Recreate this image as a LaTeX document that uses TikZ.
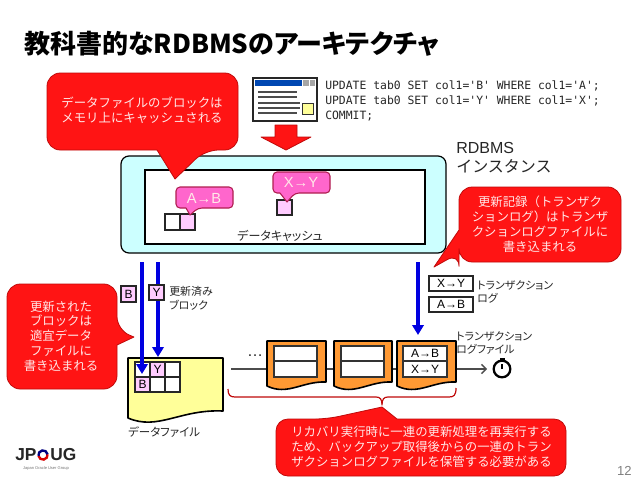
\documentclass[tikz,border=0pt]{standalone}
\usepackage{fontspec}
\usetikzlibrary{arrows.meta}
\setmainfont{Liberation Sans}
\newfontfamily\jp[RawFeature={+palt}]{Noto Sans CJK JP}
\newfontfamily\jpf{Noto Sans CJK JP}
\newfontfamily\sqlfont{DejaVu Sans Mono}
\newcommand\tsz[2]{\fontsize{#1pt}{#2pt}\selectfont}
\newcommand\pxbox[7]{%
  \pgfmathsetmacro\pxw{(#5-#3)*0.75}%
  \pgfmathsetmacro\pxh{(#6-#4)*0.75}%
  \node[#1,minimum width=\pxw pt,minimum height=\pxh pt,inner sep=0pt,outer sep=0pt] (#2) at ({(#3+#5)/2},{(#4+#6)/2}) {#7};}
\definecolor{cred}{HTML}{FF1414}
\definecolor{credline}{HTML}{C00A0A}
\definecolor{cpink}{HTML}{FF66CC}
\definecolor{cpinkline}{HTML}{B01E50}
\definecolor{cblock}{HTML}{FFCCFF}
\definecolor{ccyan}{HTML}{CCFFFF}
\definecolor{cyellow}{HTML}{FFFF99}
\definecolor{corange}{HTML}{FF9933}
\definecolor{cblue}{HTML}{0000E0}
\definecolor{ctxt}{HTML}{FFE8E8}
\tikzset{
  x=0.75pt,y=-0.75pt,
  redcall/.style={fill=cred,draw=credline,line width=0.6pt,line join=round},
  pinkcall/.style={fill=cpink,draw=cpinkline,line width=0.8pt,line join=round},
  calltxt/.style={inner sep=0pt,text=ctxt,align=center,font=\jpf\tsz{9.3}{11.1}},
  label/.style={inner sep=0pt,text=black!85,align=left,font=\jp\tsz{8.2}{10.2}},
  block/.style={draw=black!85,line width=0.9pt,fill=cblock,font=\tsz{9}{10}},
  wblock/.style={draw=black!85,line width=0.9pt,fill=white,font=\tsz{9}{10}},
  logrow/.style={draw=black!80,line width=1pt,fill=white,font=\tsz{9}{10}},
  docline/.style={draw=black,line width=1.2pt,line join=round},
  flow/.style={draw=cblue,line width=3.3pt,-{Triangle[length=7.5pt,width=8.5pt]}},
  chain/.style={draw=black!70,line width=1.1pt},
}
\begin{document}
\begin{tikzpicture}
\useasboundingbox (0,0) rectangle (638,479);
\fill[white] (0,0) rectangle (638,479);

% title
\node[anchor=west,inner sep=0pt,font=\jp\bfseries\tsz{19.5}{23}] (title) at (24,44) {教科書的なRDBMSのアーキテクチャ};

% client window
\pxbox{draw=black!85,line width=1.3pt,fill=white}{win}{253}{78}{317}{121}{}
\fill[fill=blue!60!cyan!70!black] (255,80) rectangle (302,86);
\fill[gray!70] (303,80) rectangle (309,86);
\fill[gray!70] (310,80) rectangle (315,86);
\foreach \yy/\xx in {92/297,97/297,103/300,108/300,113/297}
  \draw[black!70,line width=0.8pt] (258,\yy) -- (\xx,\yy);
\pxbox{draw=black!80,line width=0.7pt,fill=cyellow}{winnote}{302}{103}{313}{114}{}

% SQL
\node[anchor=north west,inner sep=0pt,align=left,text=black!85,font=\sqlfont\tsz{8.55}{11}] (sql) at (325,81)
  {UPDATE tab0 SET col1='B' WHERE col1='A';\\UPDATE tab0 SET col1='Y' WHERE col1='X';\\COMMIT;};

% big red arrow
\draw[redcall] (275,125) -- (297,125) -- (297,137) -- (311,137) -- (286,150) -- (261,137) -- (275,137) -- cycle;

% instance
\pxbox{draw=black,line width=0.9pt,rounded corners=6pt,fill=ccyan}{inst}{121}{156}{446}{253}{}
\pxbox{draw=black,line width=1.1pt,fill=white}{cache}{145}{170}{425}{244}{}
\node[label,font=\jp\tsz{9}{11}] (cachelbl) at (280,236) {データキャッシュ};
\node[anchor=north west,inner sep=0pt,align=left,text=black!85,font=\tsz{12}{14.3}] (instlbl) at (456,142) {RDBMS\\{\jpf インスタンス}};

% cache blocks
\pxbox{wblock}{ca}{165}{214}{180}{230}{}
\pxbox{block}{cb}{180}{214}{195}{230}{}
\pxbox{block}{cc}{277}{200}{292}{215}{}

% pink callouts
\draw[pinkcall,rounded corners=3pt] (205,187) -- (233,187) -- (233,208) -- (198,208) [sharp corners] -- (190,215) -- (186,208) [rounded corners=3pt] -- (176,208) -- (176,187) -- cycle;
\node[inner sep=0pt,text=ctxt,font=\tsz{11}{13}] (ab) at (204,198) {A→B};
\draw[pinkcall,rounded corners=3pt] (300,172) -- (330,172) -- (330,193) -- (295,193) [sharp corners] -- (287,202) -- (280,193) [rounded corners=3pt] -- (273,193) -- (273,172) -- cycle;
\node[inner sep=0pt,text=ctxt,font=\tsz{11}{13}] (xy) at (301,182) {X→Y};

% red callouts
\draw[redcall,rounded corners=10pt] (142,73) -- (238,73) -- (238,150) -- (205,150) [sharp corners] -- (175,179) -- (157,150) [rounded corners=10pt] -- (47,150) -- (47,73) -- cycle;
\node[calltxt,font=\jpf\tsz{9.3}{11.6}] (c1) at (142,110) {データファイルのブロックは\\メモリ上にキャッシュされる};

\draw[redcall,rounded corners=10pt] (540,187) -- (621,187) -- (621,262) -- (459,262) -- (459,253) [sharp corners] -- (434,267) -- (459,230) [rounded corners=10pt] -- (459,187) -- cycle;
\node[calltxt] (c2) at (540,224) {更新記録（トランザク\\ションログ）はトランザ\\クションログファイルに\\書き込まれる};

\draw[redcall,rounded corners=10pt] (60,284) -- (117,284) -- (117,330) [sharp corners] -- (134,337) -- (117,345) [rounded corners=10pt] -- (117,389) -- (7,389) -- (7,284) -- cycle;
\node[calltxt] (c3) at (61,336) {更新された\\ブロックは\\適宜データ\\ファイルに\\書き込まれる};

\draw[redcall,rounded corners=9pt] (300,419) -- (327,419) [sharp corners] -- (382,407) -- (397,419) [rounded corners=9pt] -- (566,419) -- (566,476) -- (276,476) -- (276,419) -- cycle;
\node[calltxt,align=left,anchor=west] (c4) at (291,447) {リカバリ実行時に一連の更新処理を再実行する\\ため、バックアップ取得後からの一連のトラン\\ザクションログファイルを保管する必要がある};

% data file
\draw[docline,fill=cyellow] (128,358) -- (223,358) -- (223,411) .. controls (180,409) and (158,431) .. (128,418) -- cycle;
\node[label,font=\jp\tsz{8.6}{10},anchor=west] (dflbl) at (128,432) {データファイル};
\pxbox{wblock}{g11}{135}{362}{150}{377}{}
\pxbox{block}{g12}{150}{362}{165}{377}{Y}
\pxbox{wblock}{g13}{165}{362}{180}{377}{}
\pxbox{block}{g21}{135}{377}{150}{392}{B}
\pxbox{wblock}{g22}{150}{377}{165}{392}{}
\pxbox{wblock}{g23}{165}{377}{180}{392}{}

% transaction log rows
\pxbox{wblock}{tx}{429}{276}{473}{291}{X→Y}
\pxbox{wblock}{ta}{429}{297}{473}{312}{A→B}
\node[label,anchor=north west] (tllbl) at (477,280) {トランザクション\\ログ};
\node[label,anchor=north west] (tfbl) at (456,331) {トランザクション\\ログファイル};

% chain of log files
\coordinate (chainstart) at (231,369);
\pxbox{}{d1}{267}{341}{326}{397}{}
\pxbox{}{d2}{334}{341}{392}{397}{}
\pxbox{}{d3}{397}{341}{456}{397}{}
\node[draw=black,line width=1.7pt,circle,minimum size=12.5pt,inner sep=0pt,fill=white] (clock) at (502,369) {};
\draw[chain] (chainstart) -- (d1);
\draw[chain] (d1) -- (d2);
\draw[chain] (d2) -- (d3);
\draw[chain,shorten >=4pt,-{Straight Barb[length=3.5pt,width=7pt]}] (d3) -- (clock);
\fill[black] (499.5,358) rectangle (504.5,362);
\draw[black,line width=0.8pt] (502,369) -- (502,364);
\node[inner sep=0pt,text=black!85,font=\tsz{12}{13}] (dots) at (255,356) {…};

\foreach \xa/\xb in {267/326,334/392,397/456}{
  \pgfmathsetmacro\xm{\xb-\xa}
  \draw[docline,fill=corange] (\xa,341) -- (\xb,341) -- (\xb,382) .. controls ({\xa+0.6*\xm},381) and ({\xa+0.35*\xm},396) .. (\xa,386) -- cycle;
}
\pxbox{logrow}{r1a}{274}{346}{317}{361}{}
\pxbox{logrow}{r1b}{274}{361}{317}{377}{}
\pxbox{logrow}{r2a}{341}{346}{384}{361}{}
\pxbox{logrow}{r2b}{341}{361}{384}{377}{}
\pxbox{logrow}{r3a}{403}{346}{447}{361}{A→B}
\pxbox{logrow}{r3b}{403}{361}{447}{377}{X→Y}

% brace
\draw[credline,line width=0.9pt,line join=round] (228,389) .. controls (228,395) and (230,397) .. (235,397) -- (376,397) .. controls (380,397) and (382,399) .. (382,405) .. controls (382,399) and (384,397) .. (388,397) -- (449,397) .. controls (454,397) and (456,395) .. (456,388);

% blue arrows
\coordinate (f1s) at (142,262); \coordinate (f1e) at (142,374);
\coordinate (f2s) at (158,262); \coordinate (f2e) at (158,357);
\coordinate (f3s) at (418,262); \coordinate (f3e) at (418,335);
\draw[flow] (f1s) -- (f1e);
\draw[flow] (f2s) -- (f2e);
\draw[flow] (f3s) -- (f3e);

% updated blocks (on top of the arrows)
\pxbox{block}{ub}{121}{286}{136}{302}{B}
\pxbox{block}{uy}{149}{285}{164}{300}{Y}
\node[label,anchor=north west] (ublbl) at (169,286) {更新済み\\ブロック};

% logo
\node[anchor=west,inner sep=0pt,text=black!85,font=\bfseries\tsz{13}{13}] (logo1) at (15,455) {JP};
\draw[line width=1.8pt,color=red!85!black] (43,455) ++(170:4.6) arc (170:-10:4.6);
\draw[line width=1.8pt,color=blue!50!black] (43,455) ++(-10:4.6) arc (-10:-190:4.6);
\node[anchor=west,inner sep=0pt,text=black!85,font=\bfseries\tsz{13}{13}] (logo2) at (50,455) {UG};
\node[inner sep=0pt,text=black!55,font=\tsz{3}{3.2}] (logo3) at (46,468) {Japan Oracle User Group};

% page number
\node[anchor=east,inner sep=0pt,text=black!50,font=\tsz{9.8}{11}] (page) at (632,471) {12};
\end{tikzpicture}
\end{document}
